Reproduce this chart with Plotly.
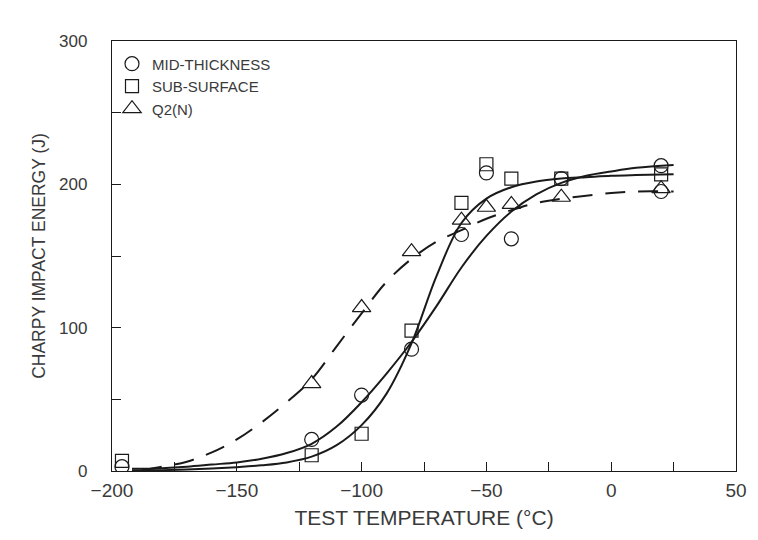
import plotly.graph_objects as go

# Measured data (temperature in °C, Charpy energy in J)
mid_T = [-196, -120, -100, -80, -60, -50, -40, -20, 20, 20]
mid_E = [3, 22, 53, 85, 165, 208, 162, 204, 213, 195]

sub_T = [-196, -120, -100, -80, -60, -50, -40, -20, 20]
sub_E = [7, 11, 26, 98, 187, 214, 204, 204, 207]

q2_T = [-120, -100, -80, -60, -50, -40, -20, 20]
q2_E = [61, 114, 153, 175, 184, 186, 191, 197]

# Fitted curves
fitA_T = [-192, -180, -170, -160, -150, -140, -130, -120, -110, -100, -90, -80, -70, -60, -50, -40, -30, -20, -10, 0, 10, 25]
fitA_E = [1.5, 2, 3, 4.5, 6, 8.5, 12.5, 19, 31, 48, 68, 90, 115, 142, 164, 181, 193, 201, 206, 209, 211.5, 213.5]

fitB_T = [-192, -180, -170, -160, -150, -140, -130, -120, -110, -100, -90, -80, -70, -60, -50, -40, -30, -20, -10, 0, 10, 25]
fitB_E = [0.3, 0.6, 1, 1.7, 2.7, 4, 6, 10, 18, 32, 54, 89, 136, 173, 190, 198, 202, 204, 205, 206, 206.5, 207]

fitC_T = [-188, -180, -170, -160, -150, -140, -130, -120, -110, -100, -90, -80, -70, -60, -50, -40, -30, -20, -10, 0, 10, 25]
fitC_E = [0.5, 3, 6.5, 13, 22, 34, 48, 64, 87, 110, 132, 148, 160, 168, 176, 182, 187, 190, 192, 194, 195, 195]

ink = "#1a1a1a"
txt = "#3a3a3a"

fig = go.Figure()

fig.add_trace(go.Scatter(x=fitA_T, y=fitA_E, mode="lines",
                         line=dict(color=ink, width=2, shape="spline", smoothing=1.0),
                         showlegend=False, hoverinfo="skip"))
fig.add_trace(go.Scatter(x=fitB_T, y=fitB_E, mode="lines",
                         line=dict(color=ink, width=2, shape="spline", smoothing=1.0),
                         showlegend=False, hoverinfo="skip"))
fig.add_trace(go.Scatter(x=fitC_T, y=fitC_E, mode="lines",
                         line=dict(color=ink, width=2, dash="20px,13px", shape="spline", smoothing=1.0),
                         showlegend=False, hoverinfo="skip"))

fig.add_trace(go.Scatter(x=mid_T, y=mid_E, mode="markers", name="MID-THICKNESS",
                         marker=dict(symbol="circle-open", size=14, color=ink, line=dict(width=1.2))))
fig.add_trace(go.Scatter(x=sub_T, y=sub_E, mode="markers", name="SUB-SURFACE",
                         marker=dict(symbol="square-open", size=13, color=ink, line=dict(width=1.2))))
fig.add_trace(go.Scatter(x=q2_T, y=q2_E, mode="markers", name="Q2(N)",
                         marker=dict(symbol="triangle-up-open", size=16, color=ink, line=dict(width=1.2))))

font_family = "Liberation Sans, Arial, sans-serif"

fig.update_layout(
    width=758, height=540,
    margin=dict(l=104, r=30, t=33, b=77),
    paper_bgcolor="white", plot_bgcolor="white",
    font=dict(family=font_family, color=txt, size=16),
    showlegend=True,
    legend=dict(x=0.0, y=0.985, xanchor="left", yanchor="top",
                bgcolor="rgba(0,0,0,0)", font=dict(size=15, color=txt),
                tracegroupgap=0, itemwidth=30),
    xaxis=dict(
        range=[-200, 50], dtick=50, tick0=-200,
        showgrid=False, zeroline=False,
        showline=True, linecolor=ink, linewidth=1.3, mirror=True,
        ticks="inside", ticklen=9, tickcolor=ink,
        minor=dict(dtick=25, ticks="inside", ticklen=9, tickcolor=ink, showgrid=False),
        tickfont=dict(size=19, color=txt),
        ticklabelstandoff=2,
        title=dict(text="TEST TEMPERATURE (°C)", font=dict(size=21, color=txt), standoff=10),
    ),
    yaxis=dict(
        range=[0, 300], dtick=100, tick0=0,
        showgrid=False, zeroline=False,
        showline=True, linecolor=ink, linewidth=1.3, mirror=True,
        ticks="inside", ticklen=9, tickcolor=ink,
        minor=dict(dtick=50, ticks="inside", ticklen=9, tickcolor=ink, showgrid=False),
        tickfont=dict(size=17, color=txt),
        ticklabelstandoff=20,
        title=dict(text="CHARPY IMPACT ENERGY (J)", font=dict(size=17.5, color=txt), standoff=8),
    ),
)

fig.write_html("out.html")
